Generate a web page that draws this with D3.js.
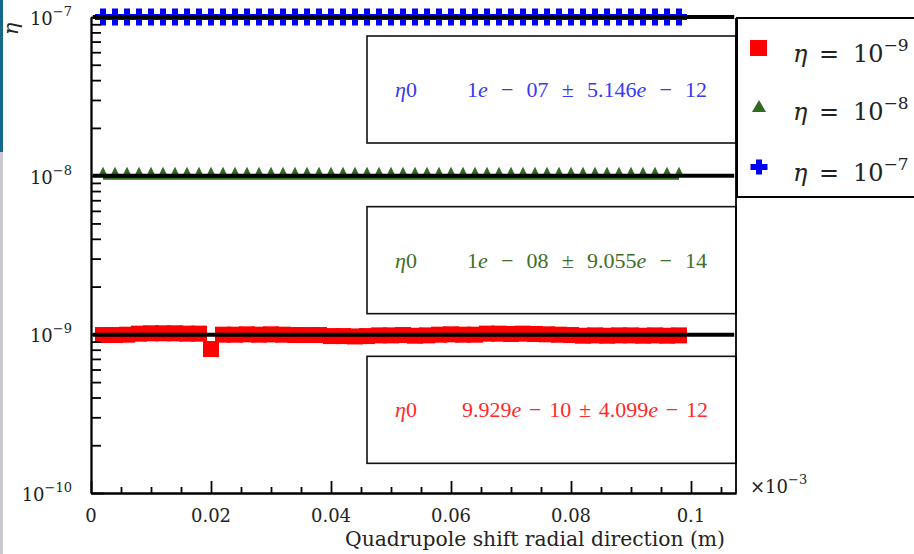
<!DOCTYPE html>
<meta charset="utf-8">
<script src="https://d3js.org/d3.v7.min.js"></script>
<style>
  body { margin: 0; background: #fff; }
  svg { display: block; }
  text { font-family: "DejaVu Serif", serif; fill: #222; }
  .it { font-style: italic; }
  .bx { font-family: "Liberation Serif", serif; font-size: 22px; }
</style>
<div id="dataviz"></div>
<script>
// shift values (m) of the quadrupole scan
const xShift = [0.002, 0.004, 0.006, 0.008, 0.010, 0.012, 0.014, 0.016, 0.018, 0.020,
                0.022, 0.024, 0.026, 0.028, 0.030, 0.032, 0.034, 0.036, 0.038, 0.040,
                0.042, 0.044, 0.046, 0.048, 0.050, 0.052, 0.054, 0.056, 0.058, 0.060,
                0.062, 0.064, 0.066, 0.068, 0.070, 0.072, 0.074, 0.076, 0.078, 0.080,
                0.082, 0.084, 0.086, 0.088, 0.090, 0.092, 0.094, 0.096, 0.098];

// reconstructed eta for the three true values
const etaRed = [9.90e-10, 9.90e-10, 9.95e-10, 1.010e-9, 1.015e-9, 1.015e-9, 1.015e-9, 1.010e-9, 1.010e-9, 8.08e-10,
                9.95e-10, 9.95e-10, 1.000e-9, 9.95e-10, 1.000e-9, 9.95e-10, 9.90e-10, 9.90e-10, 9.90e-10, 9.75e-10,
                9.75e-10, 9.70e-10, 9.75e-10, 9.85e-10, 9.85e-10, 9.90e-10, 9.80e-10, 9.85e-10, 9.95e-10, 1.000e-9,
                9.95e-10, 9.95e-10, 1.010e-9, 1.010e-9, 1.005e-9, 1.010e-9, 1.005e-9, 1.000e-9, 9.95e-10, 9.90e-10,
                9.80e-10, 9.85e-10, 9.80e-10, 9.85e-10, 9.85e-10, 9.80e-10, 9.85e-10, 9.80e-10, 9.85e-10];
const etaGreen = [1e-8, 1e-8, 1e-8, 1e-8, 1e-8, 1e-8, 1e-8, 1e-8, 1e-8, 1e-8,
                  1e-8, 1e-8, 1e-8, 1e-8, 1e-8, 1e-8, 1e-8, 1e-8, 1e-8, 1e-8,
                  1e-8, 1e-8, 1e-8, 1e-8, 1e-8, 1e-8, 1e-8, 1e-8, 1e-8, 1e-8,
                  1e-8, 1e-8, 1e-8, 1e-8, 1e-8, 1e-8, 1e-8, 1e-8, 1e-8, 1e-8,
                  1e-8, 1e-8, 1e-8, 1e-8, 1e-8, 1e-8, 1e-8, 1e-8, 1e-8];
const etaBlue = [1e-7, 1e-7, 1e-7, 1e-7, 1e-7, 1e-7, 1e-7, 1e-7, 1e-7, 1e-7,
                 1e-7, 1e-7, 1e-7, 1e-7, 1e-7, 1e-7, 1e-7, 1e-7, 1e-7, 1e-7,
                 1e-7, 1e-7, 1e-7, 1e-7, 1e-7, 1e-7, 1e-7, 1e-7, 1e-7, 1e-7,
                 1e-7, 1e-7, 1e-7, 1e-7, 1e-7, 1e-7, 1e-7, 1e-7, 1e-7, 1e-7,
                 1e-7, 1e-7, 1e-7, 1e-7, 1e-7, 1e-7, 1e-7, 1e-7, 1e-7];

// fit results (red, green, blue)
const fitEta = [9.929e-10, 1e-8, 1e-7];
const fitMean = ["9.929", "1", "1"];
const fitMeanExp = ["10", "08", "07"];
const fitErr = ["4.099", "9.055", "5.146"];
const fitErrExp = ["12", "14", "12"];
const legendExp = ["\u22129", "\u22128", "\u22127"];

// axis ticks
const xTicks = [0, 0.02, 0.04, 0.06, 0.08, 0.1];
const xTickLabels = ["0", "0.02", "0.04", "0.06", "0.08", "0.1"];
const xMinor = [0.005, 0.01, 0.015, 0.025, 0.03, 0.035, 0.045, 0.05, 0.055, 0.065, 0.07, 0.075, 0.085, 0.09, 0.095, 0.105];
const yTicks = [1e-10, 1e-9, 1e-8, 1e-7];
const yTickExp = ["\u221210", "\u22129", "\u22128", "\u22127"];

const colRed = "#ff0000", colGreen = "#2f6a1f", colBlue = "#0000ff";
const textCol = ["#ff2a2a", "#3f6e2b", "#3a3af2"];

var margin = {top: 17, right: 178, bottom: 61, left: 91},
    width = 914 - margin.left - margin.right,
    height = 554 - margin.top - margin.bottom;

var root = d3.select("#dataviz").append("svg")
    .attr("width", 914).attr("height", 554);

// window strip on the left edge of the screenshot
root.append("rect").attr("x", 0).attr("y", 0).attr("width", 3).attr("height", 152).attr("fill", "#17698a");
root.append("rect").attr("x", 0).attr("y", 152).attr("width", 3).attr("height", 402).attr("fill", "#c9c9d0");

var svg = root.append("g")
    .attr("transform", "translate(" + margin.left + "," + margin.top + ")");

var x = d3.scaleLinear().domain([0, 0.1075]).range([0, width]);
var y = d3.scaleLog().domain([1e-10, 1e-7]).range([height, 0]);

// lay out pieces of a formula one after another, spreading the spaces to fill a width
function formula(g, pieces, x0, base, target, col) {
  var nodes = pieces.map(function (p) {
    return g.append("text").attr("class", "bx" + (p.it ? " it" : ""))
      .attr("y", base).style("fill", col).text(p.t);
  });
  var widths = nodes.map(function (n) { return n.node().getComputedTextLength(); });
  var nGaps = pieces.filter(function (p) { return p.gap; }).length;
  var gap = nGaps ? (target - d3.sum(widths)) / nGaps : 0;
  var cx = x0;
  nodes.forEach(function (n, i) {
    if (pieces[i].gap) cx += gap;
    n.attr("x", cx);
    cx += widths[i];
  });
}

// text boxes with fit results (red, green, blue)
const boxTop = [y(1e-9) + 22, y(1e-8) + 31, y(1e-7) + 19];
const boxH = 107;
fitEta.forEach(function (v, i) {
  svg.append("rect")
    .attr("x", 276).attr("y", boxTop[i])
    .attr("width", width - 276).attr("height", boxH)
    .attr("fill", "none").attr("stroke", "#111").attr("stroke-width", 1.6);
  var base = boxTop[i] + 61;
  formula(svg, [{t: "\u03b7", it: true}, {t: "0"}], 304, base, 0, textCol[i]);
  formula(svg, [
    {t: fitMean[i]}, {t: "e", it: true}, {t: "\u2212", gap: true}, {t: fitMeanExp[i], gap: true},
    {t: "\u00b1", gap: true}, {t: fitErr[i], gap: true}, {t: "e", it: true},
    {t: "\u2212", gap: true}, {t: fitErrExp[i], gap: true}
  ], i == 0 ? 371 : 376, base, i == 0 ? 246 : 240, textCol[i]);
});

// green series line
svg.append("path")
  .datum(xShift.map(function (d, i) { return [d, etaGreen[i]]; }))
  .attr("transform", "translate(0,2)")
  .attr("d", d3.line().x(function (d) { return x(d[0]); }).y(function (d) { return y(d[1]); }))
  .attr("fill", "none").attr("stroke", colGreen).attr("stroke-width", 4);

// red squares
svg.selectAll(".sq").data(xShift).enter().append("rect")
  .attr("x", function (d) { return x(d) - 8; })
  .attr("y", function (d, i) { return y(etaRed[i]) - 8; })
  .attr("width", 16).attr("height", 16).attr("fill", colRed);

// green triangles
svg.selectAll(".tri").data(xShift).enter().append("path")
  .attr("d", function (d, i) {
    var cx = x(d), by = y(etaGreen[i]) - 1;
    return "M" + (cx - 4) + "," + by + "L" + cx + "," + (by - 8) + "L" + (cx + 4) + "," + by + "Z";
  })
  .attr("fill", colGreen);

// blue plus markers
function plus(cx, cy, w, h, t) {
  return "M" + (cx - t / 2) + "," + (cy - h / 2) + "h" + t + "v" + (h - t) / 2 + "h" + (w - t) / 2 +
    "v" + t + "h" + (-(w - t) / 2) + "v" + (h - t) / 2 + "h" + (-t) + "v" + (-(h - t) / 2) +
    "h" + (-(w - t) / 2) + "v" + (-t) + "h" + (w - t) / 2 + "Z";
}
svg.selectAll(".pl").data(xShift).enter().append("path")
  .attr("d", function (d, i) { return plus(x(d), y(etaBlue[i]), 16, 17, 6); })
  .attr("fill", colBlue);

// fitted constants
svg.selectAll(".fit").data(fitEta).enter().append("line")
  .attr("x1", x(0.0003)).attr("x2", x(0.1072))
  .attr("y1", function (d) { return y(d); }).attr("y2", function (d) { return y(d); })
  .attr("stroke", "#000").attr("stroke-width", 4);

// axes
function styleAxis(g) {
  g.selectAll("path, line").attr("stroke", "#000").attr("stroke-width", 1.8);
  g.selectAll("text").remove();
}
var yMinor = [];
[1e-10, 1e-9, 1e-8].forEach(function (dec) {
  [2, 3, 4, 5, 6, 7, 8, 9].forEach(function (m) { yMinor.push(m * dec); });
});
svg.append("g").call(d3.axisLeft(y).tickValues(yMinor).tickSize(-10).tickSizeOuter(0)).call(styleAxis);
svg.append("g").call(d3.axisLeft(y).tickValues(yTicks).tickSize(-13).tickSizeOuter(0)).call(styleAxis);
svg.append("g").attr("transform", "translate(0," + height + ")")
  .call(d3.axisBottom(x).tickValues(xMinor).tickSize(-6).tickSizeOuter(0)).call(styleAxis);
svg.append("g").attr("transform", "translate(0," + height + ")")
  .call(d3.axisBottom(x).tickValues(xTicks).tickSize(-12).tickSizeOuter(0)).call(styleAxis);
svg.append("line").attr("x1", width).attr("x2", width).attr("y1", 1).attr("y2", height)
  .attr("stroke", "#000").attr("stroke-width", 1.8);

// tick labels
svg.selectAll(".xl").data(xTicks).enter().append("text")
  .attr("x", function (d) { return x(d); }).attr("y", height + 29)
  .attr("text-anchor", "middle").style("font-size", "18px")
  .text(function (d, i) { return xTickLabels[i]; });
svg.selectAll(".yl").data(yTicks).enter().append("text")
  .attr("x", -19).attr("y", function (d) { return y(d) + 8; })
  .attr("text-anchor", "end").style("font-size", "18px")
  .html(function (d, i) { return '10<tspan dy="-9" style="font-size:13px">' + yTickExp[i] + '</tspan>'; });

// axis titles
svg.append("text").attr("x", 254).attr("y", height + 53)
  .attr("textLength", 380).attr("lengthAdjust", "spacingAndGlyphs")
  .style("font-size", "20px").text("Quadrupole shift radial direction (m)");
svg.append("text").attr("class", "it")
  .attr("transform", "translate(" + (-73) + "," + 12 + ") rotate(-90)")
  .attr("text-anchor", "middle").style("font-size", "21px").text("\u03b7");
svg.append("text").attr("x", width + 14).attr("y", height)
  .style("font-size", "18px")
  .html('\u00d710<tspan dy="-9" style="font-size:13px">\u22123</tspan>');

// legend
var lg = root.append("g");
lg.append("rect").attr("x", 737).attr("y", 18).attr("width", 200).attr("height", 179)
  .attr("fill", "#fff").attr("stroke", "#000").attr("stroke-width", 2);
var rowY = [48, 106, 167];
lg.append("rect").attr("x", 750).attr("y", rowY[0] - 8).attr("width", 17).attr("height", 16).attr("fill", colRed);
lg.append("path").attr("d", "M752," + (rowY[1] + 6) + "L759," + (rowY[1] - 6) + "L766," + (rowY[1] + 6) + "Z").attr("fill", colGreen);
lg.append("path").attr("d", plus(759, rowY[2], 17, 15, 6)).attr("fill", colBlue);
legendExp.forEach(function (e, i) {
  var base = rowY[i] + 14;
  lg.append("text").attr("class", "it").attr("x", 793).attr("y", base).style("font-size", "24px").text("\u03b7");
  lg.append("text").attr("x", 819).attr("y", base).style("font-size", "24px").text("=");
  lg.append("text").attr("x", 853).attr("y", base).style("font-size", "24px")
    .html('10<tspan dy="-11" style="font-size:17px">' + e + '</tspan>');
});
</script>
